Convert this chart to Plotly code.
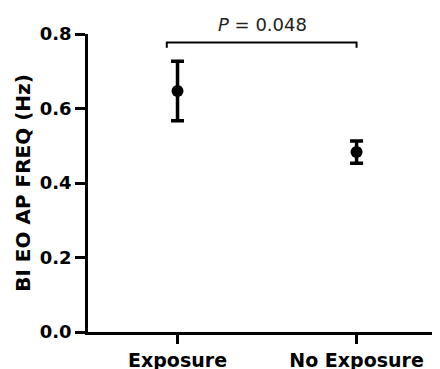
import plotly.graph_objects as go

categories = ["Exposure", "No Exposure"]
means = [0.647, 0.483]
errors = [0.080, 0.030]
y_ticks = [0.0, 0.2, 0.4, 0.6, 0.8]
y_tick_labels = ["0.0", "0.2", "0.4", "0.6", "0.8"]
bracket_x = [-0.06, 1.0]
bracket_y = 0.777
bracket_drop = 0.014
p_label = "<i>P</i> = 0.048"

fig = go.Figure()
fig.add_trace(go.Scatter(
    x=[0, 1], y=means, mode="markers",
    marker=dict(color="black", size=12, symbol="circle"),
    error_y=dict(type="data", array=errors, visible=True, color="black",
                 thickness=3.5, width=6.5),
    showlegend=False, cliponaxis=False,
))

# significance bracket
fig.add_shape(type="path",
              path=(f"M {bracket_x[0]} {bracket_y - bracket_drop} L {bracket_x[0]} {bracket_y} "
                    f"L {bracket_x[1]} {bracket_y} L {bracket_x[1]} {bracket_y - bracket_drop}"),
              xref="x", yref="y", line=dict(color="black", width=2))
fig.add_annotation(x=(bracket_x[0] + bracket_x[1]) / 2 + 0.005, y=bracket_y + 0.015,
                   xref="x", yref="y", text=p_label, showarrow=False,
                   yanchor="bottom", font=dict(family="DejaVu Sans", size=18, color="#222"))

fig.update_xaxes(
    tickvals=[0, 1], ticktext=categories, range=[-0.5, 1.466],
    showline=True, linecolor="black", linewidth=2.5,
    ticks="outside", ticklen=9, tickwidth=2.5, tickcolor="black",
    showgrid=False, zeroline=False, automargin=False, ticklabelstandoff=0,
    tickfont=dict(family="DejaVu Sans", size=19, color="black", weight="bold"),
)
fig.update_yaxes(
    tickvals=y_ticks, ticktext=y_tick_labels, range=[0, 0.8],
    showline=True, linecolor="black", linewidth=2.5,
    ticks="outside", ticklen=10, tickwidth=2.5, tickcolor="black",
    showgrid=False, zeroline=False, automargin=False,
    tickfont=dict(family="DejaVu Sans", size=18, color="black", weight="bold"),
    title=dict(text="BI EO AP FREQ (Hz)", standoff=4,
               font=dict(family="DejaVu Sans", size=20, color="black", weight="bold")),
)
# page body has an 8px default margin, so the figure is sized to fit the window
fig.update_layout(
    width=432, height=361,
    margin=dict(l=80, r=0, t=26, b=37),
    plot_bgcolor="white", paper_bgcolor="white",
)
fig.write_html("out.html")
